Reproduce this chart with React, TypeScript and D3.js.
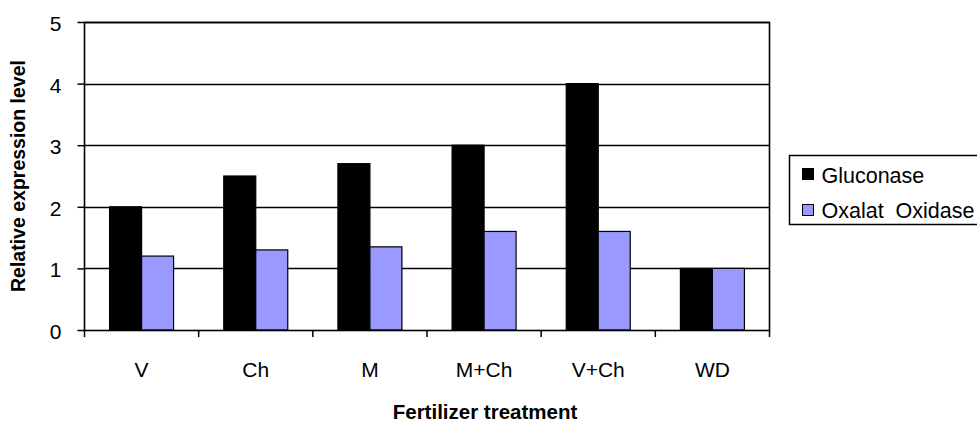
import { useRef, useEffect } from "react";
import * as d3 from "d3";

const categories = ["V", "Ch", "M", "M+Ch", "V+Ch", "WD"];
const gluconase = [2.0, 2.5, 2.7, 3.0, 4.0, 1.0];
const oxalatOxidase = [1.2, 1.3, 1.35, 1.6, 1.6, 1.0];
const seriesNames = ["Gluconase", "Oxalat  Oxidase"];
const seriesColors = ["#000000", "#9999FF"];
const yTicks = [0, 1, 2, 3, 4, 5];

function App() {
  const ref = useRef<SVGSVGElement>(null);

  useEffect(() => {
    const svg = d3.select(ref.current);
    svg.selectAll("*").remove();

    const font = "'Liberation Sans', Arial, sans-serif";
    const left = 84.5, right = 769.5, top = 22, bottom = 330;

    const x = d3.scaleBand<string>().domain(categories).range([left, right]);
    const y = d3.scaleLinear().domain([0, 5]).range([bottom, top]);
    const barW = 32;
    const inner = d3.scaleBand<number>().domain([0, 1]).range([0, barW * 2]);

    svg.append("rect").attr("width", 977).attr("height", 424).attr("fill", "#fff");

    // gridlines
    svg.append("g")
      .selectAll("line")
      .data(yTicks.filter(d => d > 0))
      .enter().append("line")
      .attr("x1", left).attr("x2", right)
      .attr("y1", d => Math.round(y(d)) + 0.5).attr("y2", d => Math.round(y(d)) + 0.5)
      .attr("stroke", "#000").attr("stroke-width", 1.5);

    // bars
    const series = [gluconase, oxalatOxidase];
    const groups = svg.append("g")
      .selectAll("g")
      .data(categories)
      .enter().append("g")
      .attr("transform", d => "translate(" + ((x(d) as number) + (x.bandwidth() - barW * 2) / 2) + ",0)");

    groups.selectAll("rect")
      .data((d, i) => series.map((s, k) => ({ k, v: s[i] })))
      .enter().append("rect")
      .attr("x", d => inner(d.k) as number)
      .attr("y", d => y(d.v))
      .attr("width", barW)
      .attr("height", d => bottom - y(d.v))
      .attr("fill", d => seriesColors[d.k])
      .attr("stroke", "#000")
      .attr("stroke-width", 1.2);

    // frame
    svg.append("rect")
      .attr("x", left).attr("y", top + 0.5)
      .attr("width", right - left).attr("height", bottom - top)
      .attr("fill", "none").attr("stroke", "#000").attr("stroke-width", 1.6);

    // y axis
    const yAxis = svg.append("g")
      .attr("transform", "translate(" + left + ",0)")
      .call(d3.axisLeft(y).tickValues(yTicks).tickSize(7).tickPadding(16).tickFormat(d3.format("d")));
    yAxis.select(".domain").remove();
    yAxis.selectAll("line").attr("stroke", "#000").attr("stroke-width", 1.5);
    yAxis.selectAll("text")
      .attr("font-family", font).attr("font-size", 21).attr("fill", "#000")
      .attr("dy", "0.4em");

    // x axis ticks at band boundaries
    const bounds = categories.map(c => x(c) as number).concat([right]);
    svg.append("g")
      .selectAll("line")
      .data(bounds)
      .enter().append("line")
      .attr("x1", d => d).attr("x2", d => d)
      .attr("y1", bottom).attr("y2", bottom + 7)
      .attr("stroke", "#000").attr("stroke-width", 1.5);

    svg.append("g")
      .selectAll("text")
      .data(categories)
      .enter().append("text")
      .attr("x", d => (x(d) as number) + x.bandwidth() / 2)
      .attr("y", 377)
      .attr("text-anchor", "middle")
      .attr("font-family", font).attr("font-size", 21)
      .text(d => d);

    // axis titles
    svg.append("text")
      .attr("x", 485).attr("y", 419)
      .attr("text-anchor", "middle")
      .attr("font-family", font).attr("font-size", 20.5).attr("font-weight", "bold")
      .text("Fertilizer treatment");

    svg.append("text")
      .attr("transform", "translate(25," + ((top + bottom) / 2) + ") rotate(-90)")
      .attr("text-anchor", "middle")
      .attr("font-family", font).attr("font-size", 19.5).attr("font-weight", "bold")
      .text("Relative  expression  level");

    // legend
    const lg = svg.append("g").attr("transform", "translate(789.5,155.5)");
    lg.append("rect").attr("width", 200).attr("height", 69)
      .attr("fill", "#fff").attr("stroke", "#000").attr("stroke-width", 1.5);
    seriesNames.forEach((name, i) => {
      lg.append("rect")
        .attr("x", 13).attr("y", 13 + i * 36).attr("width", 11).attr("height", 11)
        .attr("fill", seriesColors[i]).attr("stroke", "#000").attr("stroke-width", 1);
      lg.append("text")
        .attr("x", 32).attr("y", 27 + i * 35)
        .attr("font-family", font).attr("font-size", 21.5)
        .style("white-space", "pre")
        .text(name);
    });
  }, []);

  return (
    <svg
      ref={ref}
      width="977"
      height="424"
      style={{ position: "fixed", left: 0, top: 0 }}
    />
  );
}

export default App;
